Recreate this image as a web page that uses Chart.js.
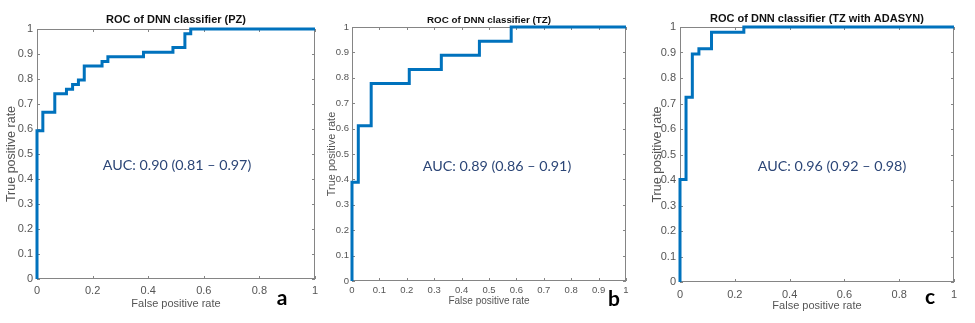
<!DOCTYPE html>
<html>
<head>
<meta charset="utf-8">
<script src="https://cdn.jsdelivr.net/npm/chart.js@4"></script>
<style>
  body { margin: 0; background: #fff; }
  #wrap { position: relative; width: 975px; height: 323px; }
  canvas { position: absolute; top: 0; }
</style>
</head>
<body>
<div id="wrap">
  <canvas id="rocA" width="325" height="323" style="left:0"></canvas>
  <canvas id="rocB" width="325" height="323" style="left:325px"></canvas>
  <canvas id="rocC" width="325" height="323" style="left:650px"></canvas>
</div>
<script>
// ROC curve points (false positive rate, true positive rate)
const fprPZ = [0, 0, 0.021, 0.064, 0.106, 0.128, 0.149, 0.170, 0.234, 0.255, 0.383, 0.489, 0.532, 0.553, 1];
const tprPZ = [0, 0.593, 0.667, 0.741, 0.759, 0.778, 0.796, 0.852, 0.870, 0.889, 0.907, 0.926, 0.981, 1, 1];

const fprTZ = [0, 0, 0.023, 0.070, 0.209, 0.326, 0.465, 0.581, 1];
const tprTZ = [0, 0.389, 0.611, 0.778, 0.833, 0.889, 0.944, 1, 1];

const fprADASYN = [0, 0, 0.022, 0.045, 0.069, 0.115, 0.233, 1];
const tprADASYN = [0, 0.402, 0.725, 0.894, 0.915, 0.979, 1, 1];

const titles = ['ROC of DNN classifier (PZ)', 'ROC of DNN classifier (TZ)', 'ROC of DNN classifier (TZ with ADASYN)'];
const aucLabels = ['AUC: 0.90 (0.81 \u2013 0.97)', 'AUC: 0.89 (0.86 \u2013 0.91)', 'AUC: 0.96 (0.92 \u2013 0.98)'];
const panelLetters = ['a', 'b', 'c'];

Chart.defaults.font.family = '"Liberation Sans", Arial, sans-serif';
Chart.defaults.color = '#555';

// MATLAB style tick text: 0, 0.1, ..., 1
const tickText = v => String(Number(v.toFixed(2)));

// box around the axes, inward tick marks, title, AUC text and panel letter
const framePlugin = {
    id: 'frame',
    beforeDatasetsDraw(chart) {
        const { ctx, chartArea: a } = chart;
        const xs = chart.scales.x, ys = chart.scales.y;
        ctx.save();
        ctx.strokeStyle = '#858585';
        ctx.lineWidth = 1;
        ctx.strokeRect(a.left + 0.5, a.top + 0.5, a.right - a.left - 1, a.bottom - a.top - 1);
        ctx.beginPath();
        xs.ticks.forEach(t => {
            const px = Math.round(xs.getPixelForValue(t.value)) + 0.5;
            ctx.moveTo(px, a.bottom); ctx.lineTo(px, a.bottom - 3);
            ctx.moveTo(px, a.top); ctx.lineTo(px, a.top + 3);
        });
        ys.ticks.forEach(t => {
            const py = Math.round(ys.getPixelForValue(t.value)) + 0.5;
            ctx.moveTo(a.left, py); ctx.lineTo(a.left + 3, py);
            ctx.moveTo(a.right, py); ctx.lineTo(a.right - 3, py);
        });
        ctx.stroke();
        ctx.restore();
    },
    afterDraw(chart, args, opts) {
        const { ctx, chartArea: a } = chart;
        ctx.save();
        ctx.textAlign = 'center';
        ctx.textBaseline = 'middle';
        ctx.fillStyle = '#111';
        ctx.font = 'bold ' + opts.titleSize + 'px "Liberation Sans", Arial, sans-serif';
        ctx.fillText(opts.title, (a.left + a.right) / 2, opts.titleY);
        ctx.fillStyle = '#2c4677';
        ctx.font = '14.3px Lato, sans-serif';
        ctx.fillText(opts.auc, opts.aucX, opts.aucY);
        ctx.fillStyle = '#000';
        ctx.font = 'bold 21px Lato, sans-serif';
        ctx.fillText(opts.letter, opts.letterX, opts.letterY);
        ctx.restore();
    }
};

function drawRoc(id, fpr, tpr, o) {
    const points = fpr.map((x, i) => ({ x: x, y: tpr[i] }));
    return new Chart(document.getElementById(id), {
        type: 'line',
        data: {
            datasets: [{
                data: points,
                borderColor: '#0072bd',
                borderWidth: 3,
                pointRadius: 0,
                stepped: 'before',
                fill: false,
                clip: 4
            }]
        },
        options: {
            responsive: false,
            animation: false,
            devicePixelRatio: 1,
            layout: { padding: { left: 0, right: o.right, top: o.top, bottom: 0 } },
            plugins: {
                legend: { display: false },
                tooltip: { enabled: false },
                frame: o.frame
            },
            scales: {
                x: {
                    type: 'linear', min: 0, max: 1,
                    grid: { display: false, drawTicks: false },
                    border: { display: false },
                    ticks: { stepSize: o.xStep, padding: o.xTickPad, font: { size: o.tickSize }, maxRotation: 0, callback: tickText },
                    title: { display: true, text: 'False positive rate', font: { size: o.xTitleSize }, padding: { top: 0, bottom: o.xTitlePad } },
                    afterFit: s => { s.height = o.xHeight; }
                },
                y: {
                    type: 'linear', min: 0, max: 1,
                    grid: { display: false, drawTicks: false },
                    border: { display: false },
                    ticks: { stepSize: 0.1, padding: o.yTickPad, font: { size: o.tickSize }, callback: tickText },
                    title: { display: true, text: 'True positive rate', font: { size: o.yTitleSize }, padding: { top: o.yTitlePad, bottom: 0 } },
                    afterFit: s => { s.width = o.yWidth; }
                }
            }
        },
        plugins: [framePlugin]
    });
}

drawRoc('rocA', fprPZ, tprPZ, {
    right: 10, top: 29, xHeight: 44, yWidth: 37,
    xStep: 0.2, tickSize: 11, xTickPad: 5, yTickPad: 4,
    xTitleSize: 11, xTitlePad: 12, yTitleSize: 12.5, yTitlePad: 4.5,
    frame: { title: titles[0], titleSize: 11, titleY: 20, auc: aucLabels[0], aucX: 177, aucY: 165, letter: panelLetters[0], letterX: 282, letterY: 298 }
});
drawRoc('rocB', fprTZ, tprTZ, {
    right: 24, top: 27, xHeight: 42, yWidth: 27,
    xStep: 0.1, tickSize: 9.5, xTickPad: 4, yTickPad: 3,
    xTitleSize: 10, xTitlePad: 16, yTitleSize: 11, yTitlePad: 0,
    frame: { title: titles[1], titleSize: 9.8, titleY: 20, auc: aucLabels[1], aucX: 172, aucY: 166, letter: panelLetters[1], letterX: 289, letterY: 299 }
});
drawRoc('rocC', fprADASYN, tprADASYN, {
    right: 21, top: 27, xHeight: 41, yWidth: 30,
    xStep: 0.2, tickSize: 11, xTickPad: 6, yTickPad: 4,
    xTitleSize: 11, xTitlePad: 10, yTitleSize: 12.5, yTitlePad: 0,
    frame: { title: titles[2], titleSize: 11, titleY: 19, auc: aucLabels[2], aucX: 182, aucY: 166, letter: panelLetters[2], letterX: 280, letterY: 297 }
});
</script>
</body>
</html>
